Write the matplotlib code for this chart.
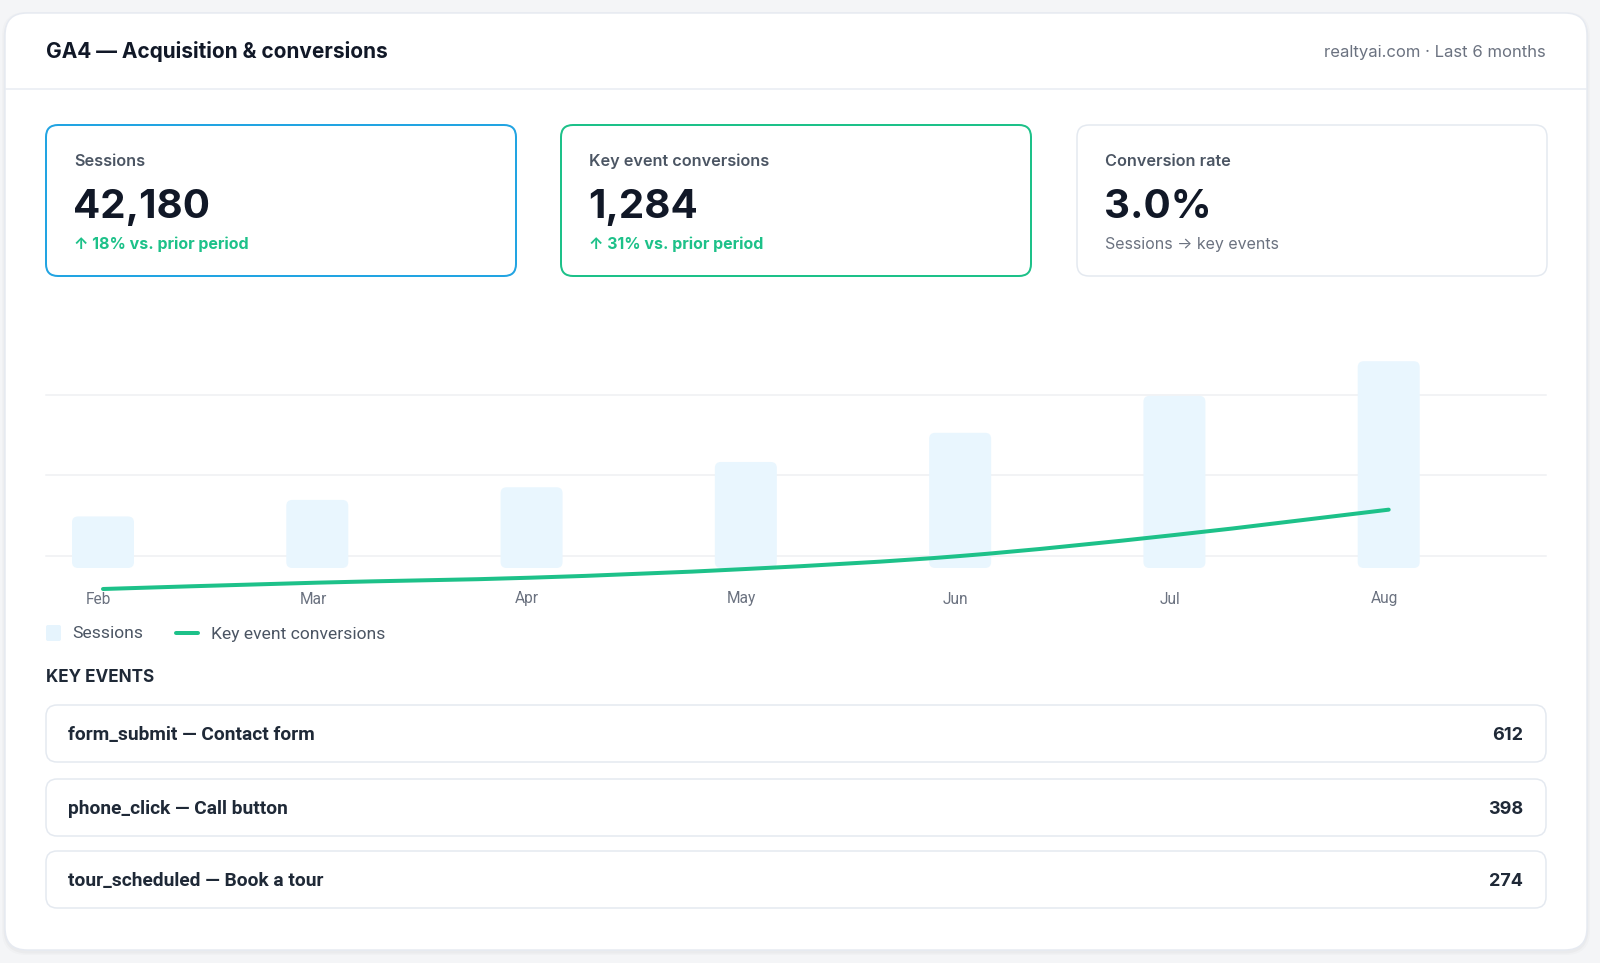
import numpy as np
import matplotlib
matplotlib.use("Agg")
import matplotlib.pyplot as plt
from matplotlib.patches import FancyBboxPatch, PathPatch
from matplotlib.path import Path
from matplotlib import transforms

plt.rcParams['font.family'] = ['Inter', 'DejaVu Sans']

months = ["Feb", "Mar", "Apr", "May", "Jun", "Jul", "Aug"]
sessions = [2650, 3500, 4150, 5450, 6950, 8850, 10630]
conversions = [96, 115, 130, 156, 195, 258, 334]

kpi_labels = ["Sessions", "Key event conversions", "Conversion rate"]
kpi_values = ["42,180", "1,284", "3.0%"]
kpi_notes = ["\u2191 18% vs. prior period", "\u2191 31% vs. prior period", "Sessions \u2192 key events"]

event_names = ["form_submit \u2014 Contact form", "phone_click \u2014 Call button", "tour_scheduled \u2014 Book a tour"]
event_counts = [612, 398, 274]

BLUE = "#22a4e2"
GREEN = "#1dc189"
BAR = "#e9f6fe"
BORDER = "#e4e9f0"
DARK = "#111827"
TEXT = "#1f2937"
MUTED = "#6b7280"
LABEL = "#4b5563"

W, H = 1600, 963
fig = plt.figure(figsize=(W / 100, H / 100), dpi=100, facecolor="#f4f5f7")
bg = fig.add_axes([0, 0, 1, 1])
bg.set_xlim(0, W)
bg.set_ylim(H, 0)
bg.axis("off")

px = 0.72  # points per pixel


def box(x, y, w, h, r, ec, lw, fc="white", z=1):
    bg.add_patch(FancyBboxPatch((x, y), w, h, boxstyle=f"round,pad=0,rounding_size={r}",
                                fc=fc, ec=ec, lw=lw * px, zorder=z))


# main card with soft shadow
for k, a in [(6, 0.015), (3, 0.025)]:
    bg.add_patch(FancyBboxPatch((5 - k / 2, 13 - k / 2 + 2), 1582 + k, 937 + k,
                                boxstyle="round,pad=0,rounding_size=24", fc="black",
                                ec="none", alpha=a, zorder=0))
box(5, 13, 1582, 937, 22, "#e6eaf1", 1.5)
bg.plot([6, 1586], [89, 89], color="#e8ecf2", lw=1.5 * px, zorder=2)

bg.text(46, 52, "GA4 \u2014 Acquisition & conversions", fontsize=15, fontweight="bold",
        color=DARK, va="center", ha="left", zorder=3)
bg.text(1546, 52, "realtyai.com \u00b7 Last 6 months", fontsize=12, color=MUTED,
        va="center", ha="right", zorder=3)

# KPI cards
card_x = [46, 561, 1077]
card_ec = [BLUE, GREEN, BORDER]
for i in range(3):
    x0 = card_x[i]
    box(x0, 125, 470, 151, 12, card_ec[i], 2 if i < 2 else 1.5, z=2)
    bg.text(x0 + 28, 161, kpi_labels[i], fontsize=11.7, fontweight="semibold",
            color=LABEL, va="center", zorder=3)
    bg.text(x0 + 27, 207, kpi_values[i], fontsize=29, fontweight="bold",
            color=DARK, va="center", zorder=3)
    bg.text(x0 + 28, 244, kpi_notes[i], fontsize=11.5,
            fontweight="bold" if i < 2 else "normal",
            color=GREEN if i < 2 else MUTED, va="center", zorder=3)

# grid lines behind the chart
for gy in [395, 475.5, 556]:
    bg.plot([46, 1546], [gy, gy], color="#eef0f3", lw=1.5 * px, zorder=2)

# chart axes: x spans px 46..1546, y spans px 340..620, bar baseline at px 568
top_px, bot_px, base_px = 340, 620, 568
s_per_px = 51.4
ax = fig.add_axes([46 / W, (H - bot_px) / H, 1500 / W, (bot_px - top_px) / H])
ax.set_xlim(-0.266, 6.734)
ax.set_ylim(-(bot_px - base_px) * s_per_px, (base_px - top_px) * s_per_px)
ax.axis("off")
ax.patch.set_alpha(0)

x_per_px = 7.0 / 1500
bw = 62 * x_per_px
aspect = s_per_px / x_per_px
for i, v in enumerate(sessions):
    ax.add_patch(FancyBboxPatch((i - bw / 2, 0), bw, v,
                                boxstyle=f"round,pad=0,rounding_size={6 * x_per_px}",
                                mutation_aspect=aspect, fc=BAR, ec="none", zorder=3))

ax2 = ax.twinx()
ax2.set_ylim(3, 843)
ax2.axis("off")
ax2.patch.set_alpha(0)

# smooth line through the points (Catmull-Rom as cubic Bezier)
pts = np.column_stack([np.arange(len(conversions)), conversions]).astype(float)
ext = np.vstack([pts[0], pts, pts[-1]])
verts = [pts[0]]
codes = [Path.MOVETO]
for i in range(len(pts) - 1):
    p0, p1, p2, p3 = ext[i], ext[i + 1], ext[i + 2], ext[i + 3]
    verts += [p1 + (p2 - p0) / 6, p2 - (p3 - p1) / 6, p2]
    codes += [Path.CURVE4] * 3
ax2.add_patch(PathPatch(Path(verts, codes), fill=False, ec=GREEN, lw=4 * px,
                        capstyle="round", joinstyle="round", zorder=4))

lab_tr = transforms.blended_transform_factory(ax.transData, bg.transData)
for i, m in enumerate(months):
    ax.text(i - 0.02, 599, m, transform=lab_tr, fontsize=11.2, color=MUTED,
            ha="center", va="center", family=["Roboto", "DejaVu Sans"])

# legend
box(46, 625, 15, 16, 2, "none", 0, fc="#e6f4fd", z=3)
bg.text(72, 634, "Sessions", fontsize=12.6, color=LABEL, va="center",
        family=["Roboto", "DejaVu Sans"], zorder=3)
bg.plot([176, 198], [633, 633], color=GREEN, lw=4 * px, solid_capstyle="round", zorder=3)
bg.text(211, 634, "Key event conversions", fontsize=12.6, color=LABEL, va="center",
        family=["Roboto", "DejaVu Sans"], zorder=3)

# key events list
bg.text(46, 678, "KEY EVENTS", fontsize=12.3, fontweight="bold", color=TEXT,
        va="center", zorder=3)
row_top = [705, 779, 851]
for i, (name, cnt) in enumerate(zip(event_names, event_counts)):
    y0 = row_top[i]
    box(46, y0, 1500, 57, 11, BORDER, 1.5, z=2)
    bg.text(68, y0 + 30, name, fontsize=13.8, fontweight="bold", color=TEXT,
            va="center", family=["Roboto", "DejaVu Sans"], zorder=3)
    bg.text(1523, y0 + 30, f"{cnt}", fontsize=13, fontweight="bold", color=TEXT,
            va="center", ha="right", zorder=3)

fig.savefig("out.png", dpi=100, facecolor=fig.get_facecolor())
